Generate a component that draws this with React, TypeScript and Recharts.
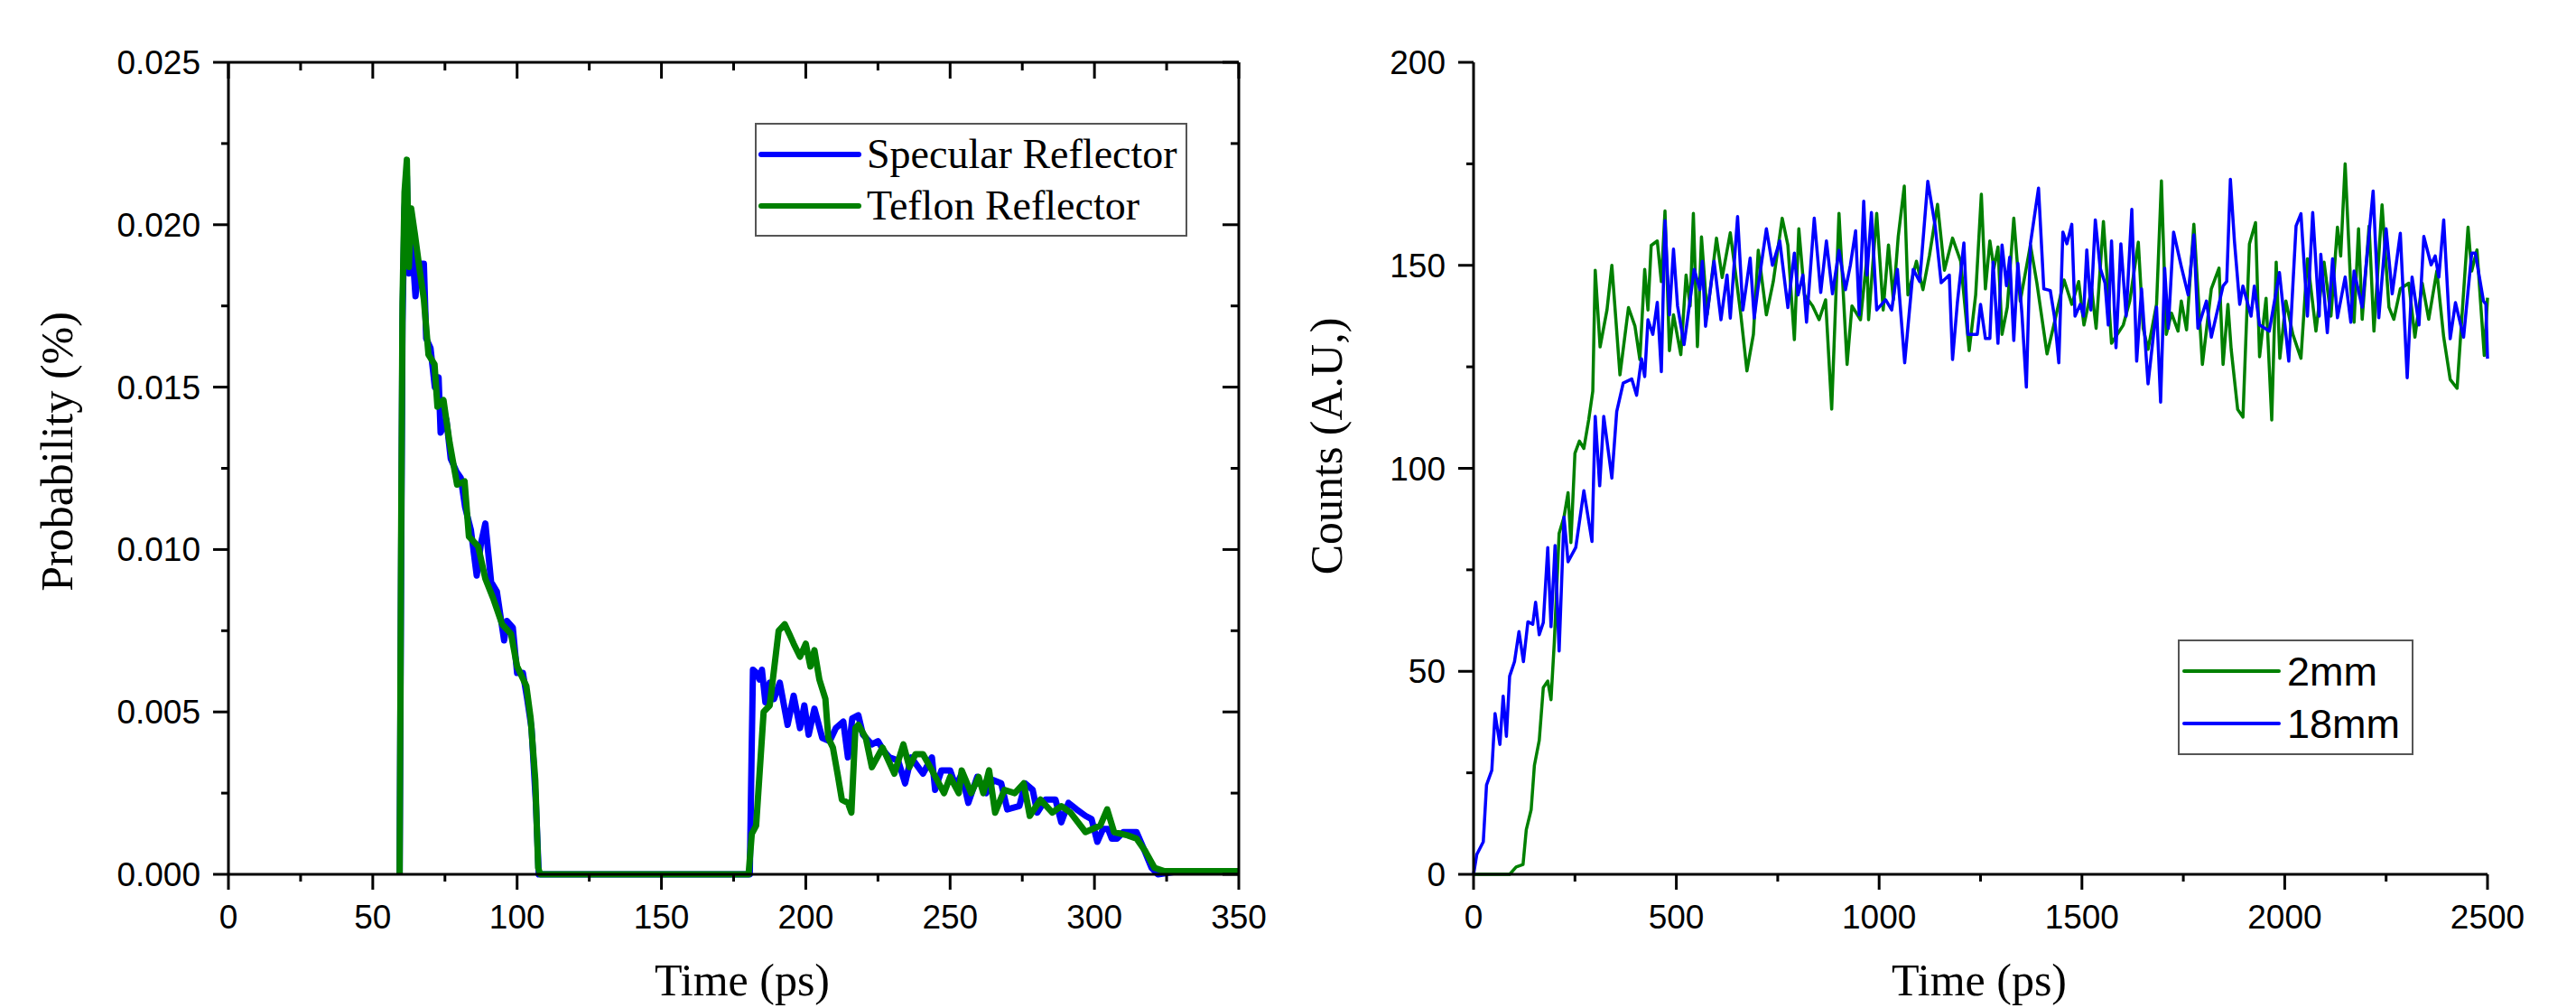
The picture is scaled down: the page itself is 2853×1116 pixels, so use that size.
import { LineChart, Line, XAxis, YAxis, Legend, Label } from 'recharts';

const BLUE = '#0000ff';
const GREEN = '#008000';
const SANS = '"Liberation Sans", Arial, sans-serif';
const SERIF = '"Liberation Serif", "Times New Roman", serif';

// left panel: detection probability vs time (ps)
const specularSeries: [number, number][] = [
  [59.3, 0], [59.8, 0.009], [60.3, 0.017], [61, 0.0205], [61.8, 0.0215], [62.5, 0.0185], [63.5, 0.0195],
  [64.8, 0.0178], [66, 0.0188], [67.7, 0.0188], [68.5, 0.0165], [70, 0.0162], [71.5, 0.015], [72.8, 0.0153],
  [73.5, 0.0136], [75.5, 0.014], [77, 0.0128], [79, 0.0124], [80.5, 0.0122], [82, 0.0113], [84, 0.0106],
  [86, 0.0092], [87.5, 0.0102], [89, 0.0108], [91, 0.009], [93, 0.0087], [95.5, 0.0072], [96.5, 0.0078],
  [98.5, 0.0076], [100, 0.0062], [102, 0.0062], [103.5, 0.0054], [105, 0.0045], [106.5, 0.0022], [107.5, 0],
  [180.6, 0], [181.2, 0.0035], [181.7, 0.0063], [183, 0.0062], [184, 0.006], [184.8, 0.0063], [186, 0.0053],
  [187.5, 0.0059], [189, 0.0054], [191, 0.0059], [193.7, 0.0046], [195.8, 0.0055], [198, 0.0045], [199.5, 0.0052],
  [201, 0.0043], [203, 0.0051], [205.7, 0.0042], [208.3, 0.0041], [210.4, 0.0045], [213, 0.0047], [214.6, 0.0036],
  [216.1, 0.0048], [218.2, 0.0049], [219.8, 0.0043], [222.9, 0.004], [225, 0.0041], [227, 0.0038], [229, 0.0036],
  [232, 0.0035], [234.4, 0.0028], [236.5, 0.0036], [240.6, 0.0031], [243.7, 0.0036], [244.8, 0.0026], [247, 0.0032],
  [250, 0.0032], [252, 0.0027], [254, 0.0031], [256.3, 0.0022], [259.4, 0.003], [262.5, 0.0025], [265, 0.0029],
  [267.7, 0.0028], [269.8, 0.002], [274, 0.0021], [276, 0.0028], [278.6, 0.0026], [280.2, 0.0019], [283, 0.0023],
  [286.5, 0.0023], [288.5, 0.0016], [291, 0.0022], [293.8, 0.002], [296.9, 0.0018], [299, 0.0017], [301, 0.001],
  [303, 0.0014], [304.7, 0.0014], [306, 0.0011], [307.8, 0.0011], [310, 0.0013], [314.6, 0.0013], [317, 0.0008],
  [319.8, 0.0002], [322, 0], [330, 0.0001], [345, 0.0001], [350, 0.0001],
];

const teflonSeries: [number, number][] = [
  [59.3, 0], [59.8, 0.01], [60.3, 0.0176], [61, 0.021], [61.8, 0.022], [62.5, 0.0187], [63.3, 0.0205],
  [64.6, 0.0197], [66.1, 0.0187], [67.7, 0.0177], [69.3, 0.016], [71.4, 0.0157], [72.4, 0.0144], [74.5, 0.0146],
  [76.6, 0.0133], [79.2, 0.012], [81.8, 0.0121], [83.3, 0.0104], [86.5, 0.0101], [89, 0.0091], [91.7, 0.0085],
  [94.8, 0.0077], [97.9, 0.0074], [100, 0.0064], [103.2, 0.0058], [104.7, 0.0048], [106.3, 0.0029], [107.3, 0.0002],
  [108, 0], [180.2, 0], [181.3, 0.00125], [182.8, 0.0015], [185.4, 0.005], [187.5, 0.0052], [189, 0.0063],
  [190.6, 0.0075], [192.7, 0.0077], [194.3, 0.0074], [195.8, 0.0071], [198, 0.0067], [200, 0.0071], [201.6, 0.0064],
  [203, 0.0069], [204.7, 0.006], [206.8, 0.0054], [207.8, 0.0042], [209.4, 0.0039], [211, 0.0031], [212.5, 0.0023],
  [214.6, 0.0022], [215.8, 0.0019], [217.2, 0.0045], [218.2, 0.0046], [220.8, 0.0042], [222.9, 0.0033], [226.6, 0.0039],
  [230.7, 0.0031], [233.8, 0.004], [235.9, 0.0033], [238, 0.0037], [240.6, 0.0037], [243.7, 0.0032], [247.9, 0.0025],
  [250, 0.003], [253, 0.0025], [254, 0.0032], [257.3, 0.0025], [259.9, 0.003], [261.5, 0.0025], [263.5, 0.0032],
  [265.6, 0.0019], [268.8, 0.0026], [272.4, 0.0025], [275.5, 0.0028], [277.6, 0.0018], [281.3, 0.0023], [285.4, 0.0019],
  [288.5, 0.0021], [291.7, 0.0019], [296.9, 0.0013], [302, 0.0015], [304.4, 0.002], [306.8, 0.0013], [311.5, 0.0012],
  [314.6, 0.0011], [317.7, 0.0007], [320.8, 0.0002], [324, 0.0001], [332, 0.0001], [340, 0.0001], [350, 0.0001],
];

// right panel: counts vs time (ps) for two thicknesses
const thinSeries: [number, number][] = [
  [0, 0], [89, 0], [105, 1.8], [122, 2.4], [130, 11], [142, 15.9], [150, 26.8], [162, 33], [172, 46], [183, 47.6],
  [191, 43], [199, 57], [211, 84], [223, 88], [233, 94], [240, 81.7], [250, 103.7], [261, 106.7], [272, 104.9],
  [284, 112], [294, 119], [300, 148.8], [312, 129.9], [329, 139], [341, 150], [361, 123], [382, 139.6], [398, 135],
  [410, 126.8], [422, 149], [430, 139], [438, 154.9], [453, 156], [463, 146], [472, 163.4], [483, 129], [493, 137.8],
  [511, 128], [524, 147.6], [534, 140], [542, 162.8], [552, 130], [562, 157], [576, 137.8], [599, 156.7], [613, 147],
  [633, 158], [645, 148.8], [659, 137.8], [674, 124], [690, 133], [702, 153.7], [722, 137.8], [739, 146], [761, 161.6],
  [775, 155], [791, 131.7], [802, 159], [816, 142.7], [836, 140], [852, 136.6], [868, 141.5], [883, 114.6], [901, 162.8],
  [921, 125.6], [933, 140], [954, 136.6], [970, 152], [974, 136.6], [994, 162.8], [1010, 139], [1023, 155], [1035, 141.5],
  [1047, 157], [1062, 169.5], [1071, 142.7], [1092, 151], [1108, 144], [1124, 152.4], [1144, 165], [1161, 148.8],
  [1181, 156.7], [1201, 151], [1222, 129], [1238, 142.7], [1252, 167.5], [1262, 144.2], [1273, 156], [1283, 149.3],
  [1293, 154.5], [1303, 133], [1316, 139.7], [1332, 161.6], [1348, 141.2], [1373, 155], [1389, 145.6], [1414, 128.2],
  [1434, 136.7], [1456, 146.4], [1475, 140.4], [1492, 146], [1505, 135.3], [1524, 144.2], [1535, 134.5], [1553, 160.8],
  [1573, 130.8], [1602, 135.3], [1618, 141.2], [1639, 155.7], [1651, 134.5], [1663, 129.3], [1684, 140.4], [1696, 170.8],
  [1708, 133], [1721, 138.2], [1737, 133.8], [1745, 141.2], [1758, 134.1], [1776, 160.1], [1797, 125.6], [1819, 144.2],
  [1838, 149.3], [1848, 125.6], [1860, 140.4], [1868, 129.3], [1884, 114.5], [1897, 112.6], [1913, 155.3], [1928, 160.5],
  [1938, 127.5], [1954, 141.9], [1968, 111.9], [1979, 150.8], [1988, 127.1], [2003, 141.2], [2020, 133], [2040, 127.1],
  [2056, 151.6], [2077, 133.8], [2097, 150.8], [2114, 137.5], [2130, 159.4], [2138, 152.3], [2149, 175], [2163, 144.2],
  [2171, 136], [2182, 159], [2191, 136.7], [2208, 159.7], [2220, 133.8], [2240, 164.9], [2257, 139.7], [2269, 136.7],
  [2285, 144.2], [2306, 145.6], [2321, 132.3], [2339, 145.6], [2355, 136.7], [2375, 148.6], [2392, 132.3], [2408, 121.9],
  [2425, 119.7], [2437, 137.5], [2452, 159.4], [2461, 148.6], [2474, 153.8], [2492, 127.8], [2500, 142],
];

const thickSeries: [number, number][] = [
  [0, 0], [8, 4.9], [24, 8], [32, 22], [45, 25.6], [53, 39.6], [65, 32], [73, 43.9], [81, 34], [89, 48.8], [101, 52.4],
  [112, 59.8], [123, 52.4], [134, 62.2], [146, 61.6], [153, 67], [162, 59], [172, 62], [183, 80.5], [191, 61], [201, 81],
  [211, 55], [223, 88], [233, 77], [252, 80.5], [272, 94.5], [292, 82], [300, 112.8], [311, 95.7], [321, 112.8],
  [341, 97.6], [353, 114], [369, 121], [390, 122], [402, 118], [414, 127], [422, 122.6], [430, 136.6], [442, 133],
  [453, 140.9], [463, 123.8], [472, 161], [483, 137.8], [493, 154], [503, 140], [519, 130.5], [544, 149], [558, 144],
  [564, 151], [572, 135], [593, 151], [610, 136.6], [625, 147.6], [633, 137], [651, 162], [664, 139], [682, 151.8],
  [692, 137], [702, 145], [722, 159], [737, 150], [755, 156], [775, 139.6], [791, 153], [800, 142.7], [812, 147.6],
  [821, 136], [840, 161.6], [856, 143.3], [870, 156], [885, 143], [901, 153.7], [917, 144], [929, 150], [942, 158.5],
  [951, 137.8], [962, 165.8], [970, 147.6], [981, 163], [994, 139], [1016, 141.5], [1031, 139], [1045, 149], [1063, 126],
  [1084, 149], [1100, 146], [1120, 170.7], [1138, 159.8], [1153, 145.7], [1173, 147.6], [1181, 126.8], [1193, 140.9],
  [1209, 155.5], [1219, 133], [1242, 133], [1250, 140.4], [1262, 132], [1273, 132], [1281, 150.8], [1293, 130.8],
  [1303, 155], [1314, 145], [1322, 152], [1332, 131.5], [1342, 150.5], [1352, 138.2], [1363, 120], [1373, 155.3],
  [1393, 169], [1406, 144.2], [1422, 143.8], [1432, 137.5], [1443, 126], [1453, 158.2], [1463, 155.3], [1475, 160.1],
  [1483, 137.5], [1496, 140.4], [1504, 137.5], [1512, 153.8], [1522, 139], [1533, 161.2], [1545, 149.3], [1557, 145.6],
  [1565, 135.3], [1573, 156], [1584, 129.7], [1596, 155.3], [1609, 137.5], [1623, 163.8], [1635, 126.4], [1647, 144.2],
  [1663, 120.8], [1684, 139.7], [1694, 116.3], [1704, 149.3], [1713, 134.5], [1726, 158.2], [1745, 149.7], [1762, 142.7],
  [1776, 157.5], [1786, 134.5], [1807, 141.2], [1819, 132.3], [1831, 137.5], [1848, 144.9], [1857, 146], [1866, 171.2],
  [1876, 156], [1889, 140.4], [1897, 144.9], [1917, 137.5], [1925, 144.9], [1938, 135.3], [1962, 133.8], [1987, 148.2],
  [2010, 126.4], [2028, 159.7], [2040, 162.7], [2056, 137.5], [2069, 163], [2085, 137.5], [2089, 152.7], [2105, 133.4],
  [2118, 151.6], [2130, 137.1], [2149, 147.1], [2163, 136], [2171, 148.6], [2191, 139.7], [2218, 168.3], [2232, 137.1],
  [2250, 159], [2265, 143], [2285, 157.9], [2302, 122.3], [2314, 147.1], [2331, 135.3], [2343, 157.1], [2361, 150.1],
  [2371, 152.3], [2380, 147.1], [2392, 161.2], [2408, 131.9], [2421, 140.8], [2441, 132.3], [2461, 153], [2470, 153],
  [2490, 141.2], [2496, 140.4], [2500, 127],
];

const leftTimeTicks = [0, 25, 50, 75, 100, 125, 150, 175, 200, 225, 250, 275, 300, 325, 350];
const probTicks = [0, 0.0025, 0.005, 0.0075, 0.01, 0.0125, 0.015, 0.0175, 0.02, 0.0225, 0.025];
const rightTimeTicks = [0, 250, 500, 750, 1000, 1250, 1500, 1750, 2000, 2250, 2500];
const countTicks = [0, 25, 50, 75, 100, 125, 150, 175, 200];

const leftLegend = [
  { name: 'Specular Reflector', color: BLUE },
  { name: 'Teflon Reflector', color: GREEN },
];
const rightLegend = [
  { name: '2mm', color: GREEN },
  { name: '18mm', color: BLUE },
];

const toRows = (s: [number, number][]) => s.map(([t, v]) => ({ t, v }));

const axisLine = { stroke: '#000', strokeWidth: 3 };

type Side = 'bottom' | 'left' | 'top' | 'right';

// draws major/minor tick marks by hand, labels only on majors
const axisTick = (side: Side, step: number, fmt?: (v: number) => string) => (p: any) => {
  const { x, y, payload } = p;
  const v = payload.value as number;
  const major = Math.abs(v / step - Math.round(v / step)) < 1e-6;
  const out = major ? 17 : 8;
  const inn = major ? 18 : 9;
  const txt = { fontFamily: SANS, fontSize: 37, fill: '#000' };
  if (side === 'bottom') {
    return (
      <g>
        <line x1={x} y1={y} x2={x} y2={y + out} stroke="#000" strokeWidth={3} />
        {major && fmt && <text x={x} y={y + 60} textAnchor="middle" {...txt}>{fmt(v)}</text>}
      </g>
    );
  }
  if (side === 'left') {
    return (
      <g>
        <line x1={x - out} y1={y} x2={x} y2={y} stroke="#000" strokeWidth={3} />
        {major && fmt && <text x={x - 31} y={y + 13} textAnchor="end" {...txt}>{fmt(v)}</text>}
      </g>
    );
  }
  if (side === 'top') {
    return <line x1={x} y1={y} x2={x} y2={y + inn} stroke="#000" strokeWidth={3} />;
  }
  return <line x1={x} y1={y} x2={x - inn} y2={y} stroke="#000" strokeWidth={3} />;
};

const LegendBox = ({ items, font, size, sample, rowGap, strokeWidth }: any) => (
  <div style={{ border: '2px solid #555', background: '#fff', padding: '4px 0 4px 2px', boxSizing: 'border-box' }}>
    {items.map((it: any) => (
      <div key={it.name} style={{ display: 'flex', alignItems: 'center', height: rowGap }}>
        <svg width={sample + 6} height={12} style={{ flex: 'none' }}>
          <line x1={3} y1={6} x2={sample + 3} y2={6} stroke={it.color} strokeWidth={strokeWidth} strokeLinecap="round" />
        </svg>
        <span style={{ fontFamily: font, fontSize: size, lineHeight: 1, marginLeft: 6, whiteSpace: 'nowrap', color: '#000' }}>
          {it.name}
        </span>
      </div>
    ))}
  </div>
);

function ProbabilityPanel() {
  return (
    <LineChart width={1440} height={1116} margin={{ top: 59, right: 58, bottom: 48, left: 0 }}>
      <XAxis
        xAxisId="b"
        type="number"
        dataKey="t"
        domain={[0, 350]}
        ticks={leftTimeTicks}
        interval={0}
        height={100}
        tickSize={0}
        tickMargin={0}
        tickLine={false}
        axisLine={axisLine}
        tick={axisTick('bottom', 50, (v) => String(v))}
      >
        <Label
          content={() => (
            <text x={822} y={1102} textAnchor="middle" fontFamily={SERIF} fontSize={50} fill="#000">
              Time (ps)
            </text>
          )}
        />
      </XAxis>
      <XAxis
        xAxisId="t"
        orientation="top"
        type="number"
        dataKey="t"
        domain={[0, 350]}
        allowDataOverflow
        ticks={leftTimeTicks}
        interval={0}
        height={10}
        tickSize={0}
        tickMargin={0}
        tickLine={false}
        axisLine={axisLine}
        tick={axisTick('top', 50)}
      />
      <YAxis
        yAxisId="l"
        type="number"
        domain={[0, 0.025]}
        ticks={probTicks}
        interval={0}
        width={253}
        tickSize={0}
        tickMargin={0}
        tickLine={false}
        axisLine={axisLine}
        tick={axisTick('left', 0.005, (v) => v.toFixed(3))}
      >
        <Label
          content={() => (
            <text
              x={80}
              y={500}
              transform="rotate(-90 80 500)"
              textAnchor="middle"
              fontFamily={SERIF}
              fontSize={50}
              fill="#000"
            >
              Probability (%)
            </text>
          )}
        />
      </YAxis>
      <YAxis
        yAxisId="r"
        orientation="right"
        type="number"
        domain={[0, 0.025]}
        allowDataOverflow
        ticks={probTicks}
        interval={0}
        width={10}
        tickSize={0}
        tickMargin={0}
        tickLine={false}
        axisLine={axisLine}
        tick={axisTick('right', 0.005)}
      />
      <Line
        xAxisId="b"
        yAxisId="l"
        data={toRows(specularSeries)}
        dataKey="v"
        name="Specular Reflector"
        type="linear"
        stroke={BLUE}
        strokeWidth={7}
        strokeLinejoin="round"
        dot={false}
        activeDot={false}
        isAnimationActive={false}
      />
      <Line
        xAxisId="b"
        yAxisId="l"
        data={toRows(teflonSeries)}
        dataKey="v"
        name="Teflon Reflector"
        type="linear"
        stroke={GREEN}
        strokeWidth={7}
        strokeLinejoin="round"
        dot={false}
        activeDot={false}
        isAnimationActive={false}
      />
      <Legend
        layout="vertical"
        verticalAlign="middle"
        align="center"
        wrapperStyle={{ position: 'absolute', left: 836, top: 136, width: 479, height: 122 }}
        content={() => (
          <LegendBox items={leftLegend} font={SERIF} size={46} sample={108} rowGap={57} strokeWidth={6} />
        )}
      />
    </LineChart>
  );
}

function CountsPanel() {
  return (
    <LineChart width={1413} height={1116} margin={{ top: 69, right: 98, bottom: 48, left: 0 }}>
      <XAxis
        type="number"
        dataKey="t"
        domain={[0, 2500]}
        ticks={rightTimeTicks}
        interval={0}
        height={100}
        tickSize={0}
        tickMargin={0}
        tickLine={false}
        axisLine={axisLine}
        tick={axisTick('bottom', 500, (v) => String(v))}
      >
        <Label
          content={() => (
            <text x={752} y={1102} textAnchor="middle" fontFamily={SERIF} fontSize={50} fill="#000">
              Time (ps)
            </text>
          )}
        />
      </XAxis>
      <YAxis
        type="number"
        domain={[0, 200]}
        ticks={countTicks}
        interval={0}
        width={192}
        tickSize={0}
        tickMargin={0}
        tickLine={false}
        axisLine={axisLine}
        tick={axisTick('left', 50, (v) => String(v))}
      >
        <Label
          content={() => (
            <text
              x={46}
              y={494}
              transform="rotate(-90 46 494)"
              textAnchor="middle"
              fontFamily={SERIF}
              fontSize={50}
              fill="#000"
            >
              Counts (A.U,)
            </text>
          )}
        />
      </YAxis>
      <Line
        data={toRows(thinSeries)}
        dataKey="v"
        name="2mm"
        type="linear"
        stroke={GREEN}
        strokeWidth={3.5}
        strokeLinejoin="round"
        dot={false}
        activeDot={false}
        isAnimationActive={false}
      />
      <Line
        data={toRows(thickSeries)}
        dataKey="v"
        name="18mm"
        type="linear"
        stroke={BLUE}
        strokeWidth={3.5}
        strokeLinejoin="round"
        dot={false}
        activeDot={false}
        isAnimationActive={false}
      />
      <Legend
        layout="vertical"
        verticalAlign="middle"
        align="center"
        wrapperStyle={{ position: 'absolute', left: 972, top: 708, width: 261, height: 124 }}
        content={() => (
          <LegendBox items={rightLegend} font={SANS} size={45} sample={105} rowGap={58} strokeWidth={4} />
        )}
      />
    </LineChart>
  );
}

export default function App() {
  return (
    <div style={{ position: 'absolute', left: 0, top: 0, width: 2853, height: 1116, background: '#fff', display: 'flex' }}>
      <ProbabilityPanel />
      <CountsPanel />
    </div>
  );
}
